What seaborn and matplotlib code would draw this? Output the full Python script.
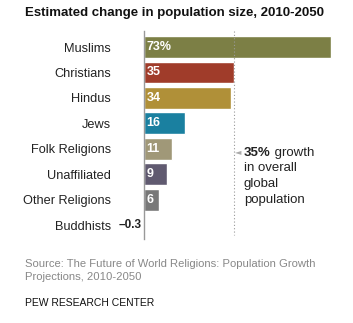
import matplotlib
matplotlib.use("Agg")
import matplotlib.pyplot as plt
import seaborn as sns
import pandas as pd

categories = ["Muslims", "Christians", "Hindus", "Jews", "Folk Religions",
              "Unaffiliated", "Other Religions", "Buddhists"]
values = [73, 35, 34, 16, 11, 9, 6, -0.3]
value_labels = ["73%", "35", "34", "16", "11", "9", "6", "\u20130.3"]
colors = ["#7c7f45", "#a03c2a", "#b09038", "#1a80a0", "#a09878",
          "#605a70", "#787878", "#9a9a9a"]
global_growth = 35

sns.set_theme(style="white")
plt.rcParams['font.family'] = ['Liberation Sans', 'DejaVu Sans']

df = pd.DataFrame({"religion": categories, "change": values})

W, H = 353, 323
fig = plt.figure(figsize=(W / 100, H / 100), dpi=100)
ax = fig.add_axes([144 / W, (H - 239) / H, 192 / W, 208 / H])

sns.barplot(data=df, y="religion", x="change", hue="religion",
            palette=colors, orient="h", width=0.86, ax=ax, legend=False,
            saturation=1)

ax.set_xlim(0, 75)
ax.set_ylim(7.55, -0.63)
ax.set_xlabel("")
ax.set_ylabel("")
ax.set_xticks([])
for s in ["top", "right", "bottom"]:
    ax.spines[s].set_visible(False)
ax.spines["left"].set_color("#999999")
ax.spines["left"].set_linewidth(1)
ax.tick_params(axis="y", length=0, pad=24, labelsize=9.2, labelcolor="#222222")

for i, (v, lab) in enumerate(zip(values, value_labels)):
    if v > 0:
        ax.text(1.0, i, lab, color="white", fontweight="bold", fontsize=9,
                va="center", ha="left")
    else:
        ax.text(-0.8, i, lab, color="#222222", fontweight="bold", fontsize=8.5,
                va="center", ha="right")

ax.plot([global_growth, global_growth], [-0.63, 7.4], ls=(0, (1, 2)),
        color="#999999", lw=0.8, clip_on=False)

ax.text(global_growth + 0.5, 4.1, "\u25c4", color="#aaaaaa", fontsize=6,
        va="center", ha="left", family=['DejaVu Sans'])
base = 4.27
step = 0.62
t = ax.text(39, base, "35%", fontweight="bold", fontsize=9.5,
            color="#222222", va="baseline", ha="left")
ax.annotate(" growth", xycoords=t, xy=(1, 0), va="bottom", ha="left",
            fontsize=9.5, color="#222222")
for k, line in enumerate(["in overall", "global", "population"], start=1):
    ax.text(39, base + k * step, line, fontsize=9.5, color="#222222",
            va="baseline", ha="left")

fig.text(25 / W, 1 - 13 / H, "Estimated change in population size, 2010-2050",
         fontsize=9.5, fontweight="bold", color="#111111", va="center", ha="left")
fig.text(25 / W, 1 - 259 / H,
         "Source: The Future of World Religions: Population Growth\nProjections, 2010-2050",
         fontsize=8.1, color="#888888", va="top", ha="left", linespacing=1.35)
fig.text(25 / W, 1 - 303 / H, "PEW RESEARCH CENTER", fontsize=7.5,
         color="#111111", va="center", ha="left")

fig.savefig("out.png", dpi=100)
